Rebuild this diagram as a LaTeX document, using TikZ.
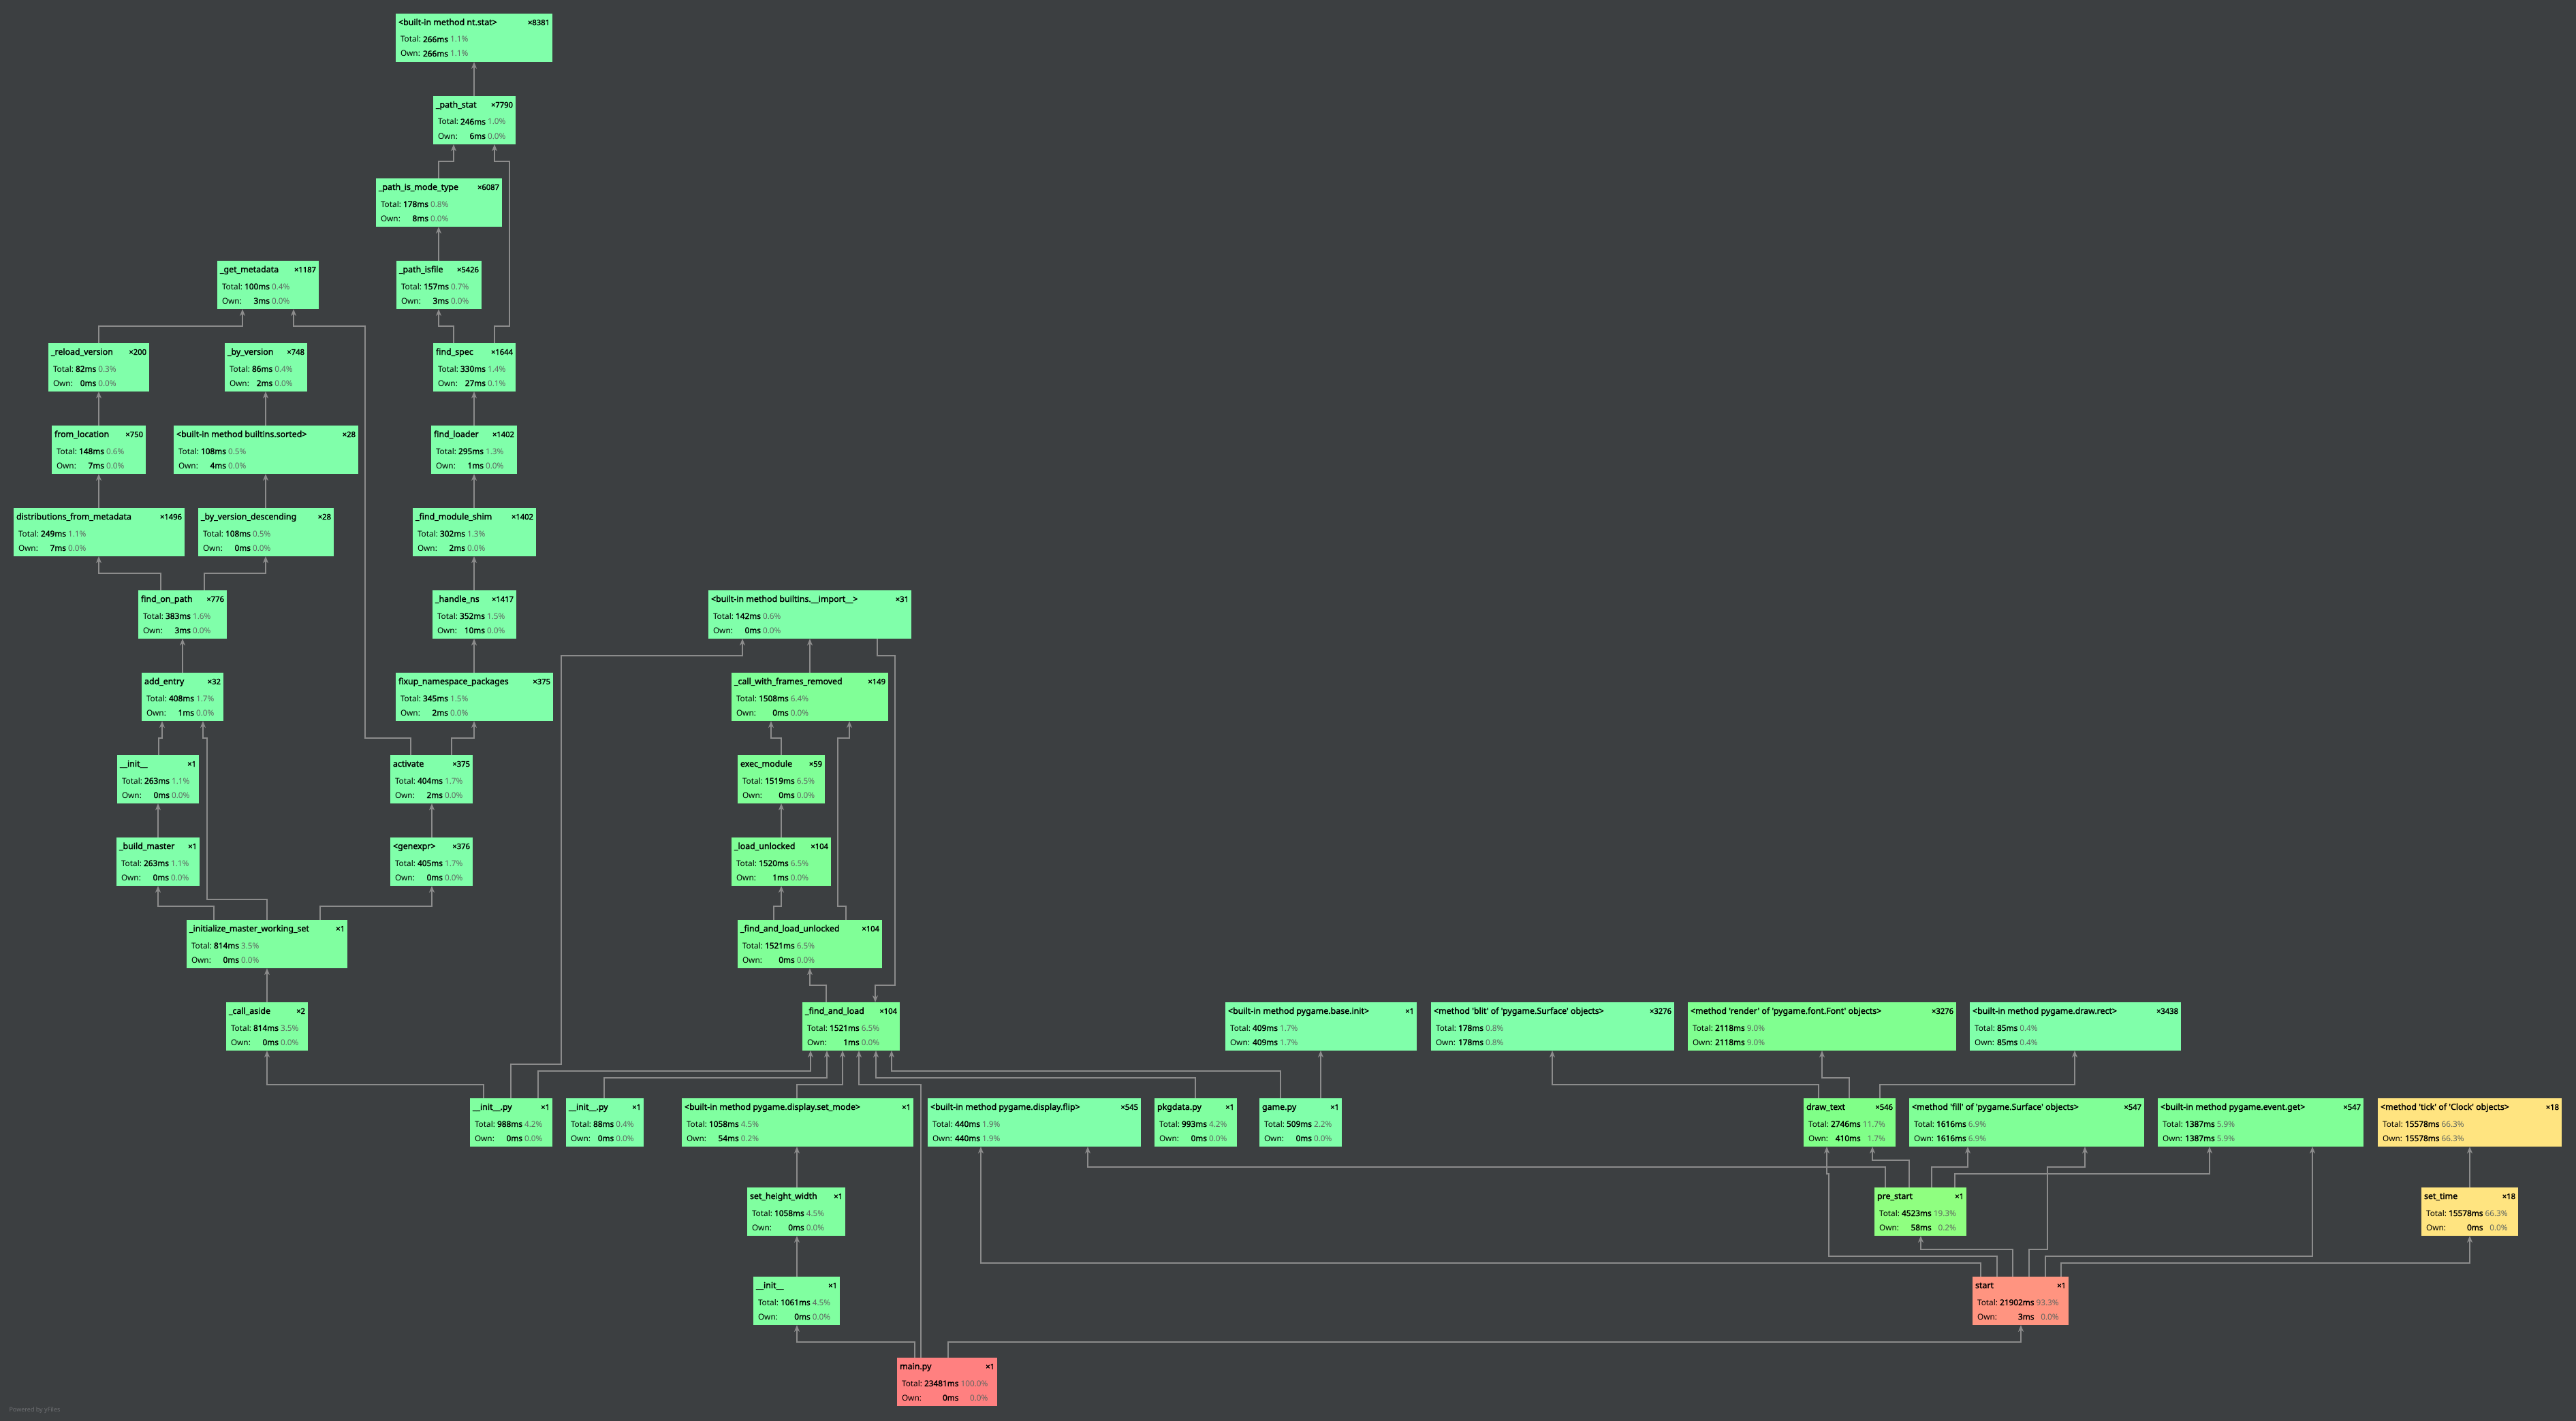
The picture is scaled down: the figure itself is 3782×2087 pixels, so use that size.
\documentclass[tikz,border=0pt]{standalone}
\usepackage{fontspec}
\usetikzlibrary{arrows.meta}

\newfontfamily\uifont{Noto Sans}[BoldFont={Noto Sans}, BoldFeatures={FakeBold=1.8}]
\definecolor{bg}{HTML}{3C3F41}
\definecolor{wire}{HTML}{8C8C8C}
\definecolor{pctgray}{HTML}{5F6661}
\definecolor{credit}{HTML}{6E7073}
\definecolor{c00}{HTML}{80FFAA}
\definecolor{c04}{HTML}{80FFA0}
\definecolor{c06}{HTML}{80FF97}
\definecolor{c09}{HTML}{80FF90}
\definecolor{c12}{HTML}{80FF88}
\definecolor{c19}{HTML}{8FFF80}
\definecolor{c66}{HTML}{FFE480}
\definecolor{c93}{HTML}{FF9480}
\definecolor{c100}{HTML}{FF8080}

\newcommand\boxtitle{\uifont\bfseries\fontsize{12.4}{14}\selectfont}
\newcommand\boxcount{\uifont\bfseries\fontsize{11.2}{13}\selectfont}
\newcommand\boxstat{\uifont\fontsize{11.8}{13}\selectfont}
\newlength\lblw
\newlength\msw
\newlength\pcw
% #1 width, #2 name, #3 calls, #4/#5 total, #6/#7 own
\newcommand\stats[7]{%
  \settowidth\lblw{\boxstat Total:\ }%
  \settowidth\msw{\boxstat\bfseries #4ms}%
  \settowidth\pcw{\boxstat #5\%}%
  \vbox to 71pt{\offinterlineskip\hsize=#1pt
    \kern17pt
    \hbox to #1pt{\hskip4pt\smash{\boxtitle #2}\hfill\smash{\boxcount ×#3}\hskip4pt}%
    \kern25pt
    \hbox to #1pt{\hskip7pt\smash{\boxstat\makebox[\lblw][l]{Total:}\makebox[\msw][r]{\bfseries #4ms}\ \makebox[\pcw][r]{\color{pctgray}#5\%}}\hfill}%
    \kern21pt
    \hbox to #1pt{\hskip7pt\smash{\boxstat\makebox[\lblw][l]{Own:}\makebox[\msw][r]{\bfseries #6ms}\ \makebox[\pcw][r]{\color{pctgray}#7\%}}\hfill}%
    \vfill}}

\begin{document}
\begin{tikzpicture}[x=1pt, y=-1pt,
    callbox/.style={fill=#1, anchor=north west, inner sep=0pt, outer sep=0pt},
    call/.style={draw=wire, line width=1.2pt, -{Stealth[length=10pt, width=8pt, inset=3pt]}}]
    \useasboundingbox (0,0) rectangle (3782,2087);
    \fill[bg] (0,0) rectangle (3782,2087);

    \node[callbox=c00] (ntstat) at (581,20) {\stats{230}{<built-in method nt.stat>}{8381}{266}{1.1}{266}{1.1}};
    \node[callbox=c00] (pathstat) at (636,141) {\stats{121}{\_path\_stat}{7790}{246}{1.0}{6}{0.0}};
    \node[callbox=c00] (pathmode) at (552,262) {\stats{185}{\_path\_is\_mode\_type}{6087}{178}{0.8}{8}{0.0}};
    \node[callbox=c00] (pathisfile) at (582,383) {\stats{125}{\_path\_isfile}{5426}{157}{0.7}{3}{0.0}};
    \node[callbox=c00] (getmeta) at (319,383) {\stats{149}{\_get\_metadata}{1187}{100}{0.4}{3}{0.0}};
    \node[callbox=c00] (reloadver) at (71,504) {\stats{148}{\_reload\_version}{200}{82}{0.3}{0}{0.0}};
    \node[callbox=c00] (byver) at (330,504) {\stats{121}{\_by\_version}{748}{86}{0.4}{2}{0.0}};
    \node[callbox=c00] (findspec) at (636,504) {\stats{121}{find\_spec}{1644}{330}{1.4}{27}{0.1}};
    \node[callbox=c00] (fromloc) at (76,625) {\stats{138}{from\_location}{750}{148}{0.6}{7}{0.0}};
    \node[callbox=c00] (sorted) at (255,625) {\stats{271}{<built-in method builtins.sorted>}{28}{108}{0.5}{4}{0.0}};
    \node[callbox=c00] (findloader) at (633,625) {\stats{126}{find\_loader}{1402}{295}{1.3}{1}{0.0}};
    \node[callbox=c00] (distmeta) at (20,746) {\stats{251}{distributions\_from\_metadata}{1496}{249}{1.1}{7}{0.0}};
    \node[callbox=c00] (byverdesc) at (291,746) {\stats{199}{\_by\_version\_descending}{28}{108}{0.5}{0}{0.0}};
    \node[callbox=c00] (modshim) at (606,746) {\stats{181}{\_find\_module\_shim}{1402}{302}{1.3}{2}{0.0}};
    \node[callbox=c00] (findonpath) at (203,867) {\stats{130}{find\_on\_path}{776}{383}{1.6}{3}{0.0}};
    \node[callbox=c00] (handlens) at (635,867) {\stats{123}{\_handle\_ns}{1417}{352}{1.5}{10}{0.0}};
    \node[callbox=c00] (bimport) at (1040,867) {\stats{298}{<built-in method builtins.\_\_import\_\_>}{31}{142}{0.6}{0}{0.0}};
    \node[callbox=c00] (addentry) at (208,988) {\stats{120}{add\_entry}{32}{408}{1.7}{1}{0.0}};
    \node[callbox=c00] (fixup) at (581,988) {\stats{231}{fixup\_namespace\_packages}{375}{345}{1.5}{2}{0.0}};
    \node[callbox=c06] (cwfr) at (1074,988) {\stats{230}{\_call\_with\_frames\_removed}{149}{1508}{6.4}{0}{0.0}};
    \node[callbox=c00] (initA) at (172,1109) {\stats{120}{\_\_init\_\_}{1}{263}{1.1}{0}{0.0}};
    \node[callbox=c00] (activate) at (573,1109) {\stats{121}{activate}{375}{404}{1.7}{2}{0.0}};
    \node[callbox=c06] (execmod) at (1083,1109) {\stats{128}{exec\_module}{59}{1519}{6.5}{0}{0.0}};
    \node[callbox=c00] (buildmaster) at (171,1230) {\stats{122}{\_build\_master}{1}{263}{1.1}{0}{0.0}};
    \node[callbox=c00] (genexpr) at (573,1230) {\stats{121}{<genexpr>}{376}{405}{1.7}{0}{0.0}};
    \node[callbox=c06] (loadunl) at (1074,1230) {\stats{146}{\_load\_unlocked}{104}{1520}{6.5}{1}{0.0}};
    \node[callbox=c04] (imws) at (274,1351) {\stats{236}{\_initialize\_master\_working\_set}{1}{814}{3.5}{0}{0.0}};
    \node[callbox=c06] (falu) at (1083,1351) {\stats{212}{\_find\_and\_load\_unlocked}{104}{1521}{6.5}{0}{0.0}};
    \node[callbox=c04] (callaside) at (332,1472) {\stats{120}{\_call\_aside}{2}{814}{3.5}{0}{0.0}};
    \node[callbox=c06] (findload) at (1178,1472) {\stats{143}{\_find\_and\_load}{104}{1521}{6.5}{1}{0.0}};
    \node[callbox=c00] (baseinit) at (1799,1472) {\stats{281}{<built-in method pygame.base.init>}{1}{409}{1.7}{409}{1.7}};
    \node[callbox=c00] (blit) at (2101,1472) {\stats{357}{<method 'blit' of 'pygame.Surface' objects>}{3276}{178}{0.8}{178}{0.8}};
    \node[callbox=c09] (render) at (2478,1472) {\stats{394}{<method 'render' of 'pygame.font.Font' objects>}{3276}{2118}{9.0}{2118}{9.0}};
    \node[callbox=c00] (drawrect) at (2892,1472) {\stats{310}{<built-in method pygame.draw.rect>}{3438}{85}{0.4}{85}{0.4}};
    \node[callbox=c04] (initpyA) at (690,1613) {\stats{121}{\_\_init\_\_.py}{1}{988}{4.2}{0}{0.0}};
    \node[callbox=c00] (initpyB) at (831,1613) {\stats{114}{\_\_init\_\_.py}{1}{88}{0.4}{0}{0.0}};
    \node[callbox=c04] (setmode) at (1001,1613) {\stats{340}{<built-in method pygame.display.set\_mode>}{1}{1058}{4.5}{54}{0.2}};
    \node[callbox=c00] (flip) at (1362,1613) {\stats{313}{<built-in method pygame.display.flip>}{545}{440}{1.9}{440}{1.9}};
    \node[callbox=c04] (pkgdata) at (1695,1613) {\stats{121}{pkgdata.py}{1}{993}{4.2}{0}{0.0}};
    \node[callbox=c00] (game) at (1849,1613) {\stats{121}{game.py}{1}{509}{2.2}{0}{0.0}};
    \node[callbox=c12] (drawtext) at (2648,1613) {\stats{135}{draw\_text}{546}{2746}{11.7}{410}{1.7}};
    \node[callbox=c06] (surffill) at (2803,1613) {\stats{345}{<method 'fill' of 'pygame.Surface' objects>}{547}{1616}{6.9}{1616}{6.9}};
    \node[callbox=c06] (eventget) at (3168,1613) {\stats{302}{<built-in method pygame.event.get>}{547}{1387}{5.9}{1387}{5.9}};
    \node[callbox=c66] (tick) at (3491,1613) {\stats{270}{<method 'tick' of 'Clock' objects>}{18}{15578}{66.3}{15578}{66.3}};
    \node[callbox=c04] (setheight) at (1097,1744) {\stats{144}{set\_height\_width}{1}{1058}{4.5}{0}{0.0}};
    \node[callbox=c19] (prestart) at (2752,1744) {\stats{135}{pre\_start}{1}{4523}{19.3}{58}{0.2}};
    \node[callbox=c66] (settime) at (3555,1744) {\stats{142}{set\_time}{18}{15578}{66.3}{0}{0.0}};
    \node[callbox=c04] (initB) at (1106,1875) {\stats{127}{\_\_init\_\_}{1}{1061}{4.5}{0}{0.0}};
    \node[callbox=c93] (start) at (2896,1875) {\stats{141}{start}{1}{21902}{93.3}{3}{0.0}};
    \node[callbox=c100] (mainpy) at (1317,1994) {\stats{147}{main.py}{1}{23481}{100.0}{0}{0.0}};
    \node[font=\uifont\fontsize{9}{11}\selectfont, text=credit, anchor=base west] (credit) at (10,2073) {Powered by yFiles};

    \draw[call] (pathstat.north -| 696,0) -- (ntstat.south -| 696,0);
    \draw[call] (pathmode.north -| 644,0) |- (666,237) -- (pathstat.south -| 666,0);
    \draw[call] (findspec.north -| 726,0) |- (748,479) |- (726,237) -- (pathstat.south -| 726,0);
    \draw[call] (pathisfile.north -| 644,0) -- (pathmode.south -| 644,0);
    \draw[call] (findspec.north -| 666,0) |- (644,479) -- (pathisfile.south -| 644,0);
    \draw[call] (findloader.north -| 696,0) -- (findspec.south -| 696,0);
    \draw[call] (modshim.north -| 696,0) -- (findloader.south -| 696,0);
    \draw[call] (handlens.north -| 696,0) -- (modshim.south -| 696,0);
    \draw[call] (fixup.north -| 696,0) -- (handlens.south -| 696,0);
    \draw[call] (activate.north -| 663,0) |- (696,1084) -- (fixup.south -| 696,0);
    \draw[call] (activate.north -| 603,0) |- (536,1084) |- (431,479) -- (getmeta.south -| 431,0);
    \draw[call] (reloadver.north -| 145,0) |- (356,479) -- (getmeta.south -| 356,0);
    \draw[call] (fromloc.north -| 145,0) -- (reloadver.south -| 145,0);
    \draw[call] (distmeta.north -| 145,0) -- (fromloc.south -| 145,0);
    \draw[call] (findonpath.north -| 236,0) |- (145,842) -- (distmeta.south -| 145,0);
    \draw[call] (sorted.north -| 390,0) -- (byver.south -| 390,0);
    \draw[call] (byverdesc.north -| 390,0) -- (sorted.south -| 390,0);
    \draw[call] (findonpath.north -| 300,0) |- (390,842) -- (byverdesc.south -| 390,0);
    \draw[call] (addentry.north -| 268,0) -- (findonpath.south -| 268,0);
    \draw[call] (initA.north -| 233,0) |- (238,1084) -- (addentry.south -| 238,0);
    \draw[call] (imws.north -| 392,0) |- (304,1321) |- (298,1084) -- (addentry.south -| 298,0);
    \draw[call] (buildmaster.north -| 232,0) -- (initA.south -| 232,0);
    \draw[call] (imws.north -| 314,0) |- (232,1331) -- (buildmaster.south -| 232,0);
    \draw[call] (imws.north -| 470,0) |- (634,1331) -- (genexpr.south -| 634,0);
    \draw[call] (genexpr.north -| 634,0) -- (activate.south -| 634,0);
    \draw[call] (callaside.north -| 392,0) -- (imws.south -| 392,0);

    \draw[call] (initpyA.north -| 710,0) |- (392,1593) -- (callaside.south -| 392,0);
    \draw[call] (initpyA.north -| 750,0) |- (824,1563) |- (1090,963) -- (bimport.south -| 1090,0);
    \draw[call] (initpyA.north -| 790,0) |- (1190,1573) -- (findload.south -| 1190,0);
    \draw[call] (initpyB.north -| 887,0) |- (1214,1583) -- (findload.south -| 1214,0);
    \draw[call] (setmode.north -| 1170,0) |- (1237,1593) -- (findload.south -| 1237,0);
    \draw[call] (mainpy.north -| 1352,0) |- (1261,1593) -- (findload.south -| 1261,0);
    \draw[call] (pkgdata.north -| 1755,0) |- (1286,1583) -- (findload.south -| 1286,0);
    \draw[call] (game.north -| 1880,0) |- (1309,1573) -- (findload.south -| 1309,0);
    \draw[call] (cwfr.north -| 1189,0) -- (bimport.south -| 1189,0);
    \draw[call] (bimport.south -| 1288,0) |- (1314,963) |- (1285,1447) -- (findload.north -| 1285,0);
    \draw[call] (execmod.north -| 1147,0) |- (1132,1084) -- (cwfr.south -| 1132,0);
    \draw[call] (falu.north -| 1242,0) |- (1230,1331) |- (1247,1084) -- (cwfr.south -| 1247,0);
    \draw[call] (loadunl.north -| 1147,0) -- (execmod.south -| 1147,0);
    \draw[call] (falu.north -| 1136,0) |- (1147,1331) -- (loadunl.south -| 1147,0);
    \draw[call] (findload.north -| 1213,0) |- (1189,1447) -- (falu.south -| 1189,0);

    \draw[call] (setheight.north -| 1170,0) -- (setmode.south -| 1170,0);
    \draw[call] (initB.north -| 1170,0) -- (setheight.south -| 1170,0);
    \draw[call] (mainpy.north -| 1343,0) |- (1170,1971) -- (initB.south -| 1170,0);
    \draw[call] (mainpy.north -| 1392,0) |- (2967,1971) -- (start.south -| 2967,0);
    \draw[call] (game.north -| 1939,0) -- (baseinit.south -| 1939,0);

    \draw[call] (drawtext.north -| 2670,0) |- (2279,1593) -- (blit.south -| 2279,0);
    \draw[call] (drawtext.north -| 2715,0) |- (2675,1583) -- (render.south -| 2675,0);
    \draw[call] (drawtext.north -| 2760,0) |- (3046,1593) -- (drawrect.south -| 3046,0);
    \draw[call] (prestart.north -| 2768,0) |- (1597,1714) -- (flip.south -| 1597,0);
    \draw[call] (prestart.north -| 2803,0) |- (2749,1704) -- (drawtext.south -| 2749,0);
    \draw[call] (prestart.north -| 2836,0) |- (2889,1714) -- (surffill.south -| 2889,0);
    \draw[call] (prestart.north -| 2870,0) |- (3244,1724) -- (eventget.south -| 3244,0);
    \draw[call] (start.north -| 2908,0) |- (1440,1855) -- (flip.south -| 1440,0);
    \draw[call] (start.north -| 2932,0) |- (2685,1845) |- (2682,1724) -- (drawtext.south -| 2682,0);
    \draw[call] (start.north -| 2955,0) |- (2820,1835) -- (prestart.south -| 2820,0);
    \draw[call] (start.north -| 2979,0) |- (3006,1835) |- (3061,1714) -- (surffill.south -| 3061,0);
    \draw[call] (start.north -| 3003,0) |- (3395,1845) -- (eventget.south -| 3395,0);
    \draw[call] (start.north -| 3026,0) |- (3626,1855) -- (settime.south -| 3626,0);
    \draw[call] (settime.north -| 3626,0) -- (tick.south -| 3626,0);
\end{tikzpicture}
\end{document}
